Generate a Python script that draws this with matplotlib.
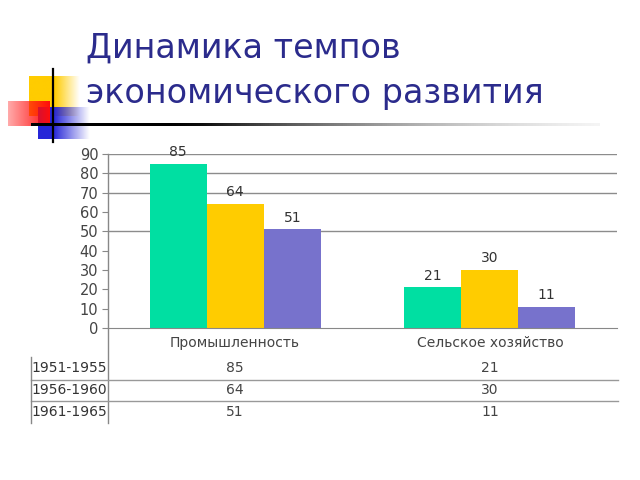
import numpy as np
import matplotlib
matplotlib.use("Agg")
import matplotlib.pyplot as plt

categories = ["Промышленность", "Сельское хозяйство"]
series_names = ["1951-1955", "1956-1960", "1961-1965"]
values = [[85, 21], [64, 30], [51, 11]]
colors = ["#00DFA2", "#FFCC00", "#7772CC"]
yticks = [0, 10, 20, 30, 40, 50, 60, 70, 80, 90]
grid_levels = [50, 70, 80, 90]
title_lines = ["Динамика темпов", "экономического развития"]

W, H = 640, 480
fig = plt.figure(figsize=(6.4, 4.8), dpi=100)
fig.patch.set_facecolor("white")

# overlay axes in pixel coordinates
ov = fig.add_axes([0, 0, 1, 1], zorder=0)
ov.set_xlim(0, W)
ov.set_ylim(H, 0)
ov.axis("off")

def grad_rect(x0, x1, y0, y1, rgb, a0=1.0, a1=0.0, fade_start=0.4, z=1):
    n = 100
    t = np.linspace(0, 1, n)
    alpha = np.where(t < fade_start, a0, a0 + (a1 - a0) * (t - fade_start) / (1 - fade_start))
    img = np.zeros((1, n, 4))
    img[0, :, :3] = rgb
    img[0, :, 3] = np.clip(alpha, 0, 1)
    ov.imshow(img, extent=(x0, x1, y1, y0), aspect="auto", zorder=z, interpolation="bilinear")

# decoration
grad_rect(29, 80, 76, 116, (1.0, 0.80, 0.0), fade_start=0.5, z=1)
grad_rect(38, 90, 107, 139, (0.15, 0.15, 0.85), fade_start=0.3, z=2)
grad_rect(8, 50, 101, 126, (1.0, 0.05, 0.05), a0=0.35, a1=1.0, fade_start=0.0, z=3)
ov.plot([53, 53], [69, 142], color="black", lw=1.6, zorder=5)
# fading horizontal rule
n = 200
rule = np.zeros((1, n, 4))
t = np.linspace(0, 1, n)
rule[0, :, :3] = np.clip((t[:, None] - 0.3) * 1.2, 0, 0.85)
rule[0, :, 3] = np.clip(1.25 - t, 0, 1)
ov.imshow(rule, extent=(31, 600, 126.5, 123.5), aspect="auto", zorder=5, interpolation="bilinear")
ov.set_xlim(0, W)
ov.set_ylim(H, 0)

# title
title_color = "#2B2B8C"
ov.text(86, 48, title_lines[0], fontsize=24, color=title_color, va="center", ha="left",
        family="DejaVu Sans", zorder=6)
ov.text(86, 93, title_lines[1], fontsize=24, color=title_color, va="center", ha="left",
        family="DejaVu Sans", zorder=6)

# main chart axes
left_px, right_px, top_px, bot_px = 108, 617, 154, 328
ax = fig.add_axes([left_px / W, 1 - bot_px / H, (right_px - left_px) / W, (bot_px - top_px) / H],
                  zorder=2)
ax.patch.set_alpha(0)
x = np.arange(len(categories))
bw = 0.224
for i, (name, vals, c) in enumerate(zip(series_names, values, colors)):
    xs = x + (i - 1) * bw
    ax.bar(xs, vals, width=bw, color=c, zorder=3, linewidth=0)
    for xi, v in zip(xs, vals):
        ax.text(xi, v + 2.5, str(v), ha="center", va="bottom", fontsize=10, color="#333333")
for g in grid_levels:
    ax.axhline(g, color="#8c8c8c", lw=1.0, zorder=1)
ax.set_xlim(-0.5, 1.5)
ax.set_ylim(0, 90)
ax.set_yticks(yticks)
ax.set_yticklabels([str(v) for v in yticks], fontsize=10.5, color="#444444")
ax.tick_params(axis="y", length=4, color="#888888", pad=3)
ax.set_xticks([])
for s in ["top", "right", "left"]:
    ax.spines[s].set_visible(False)
ax.spines["bottom"].set_color("#888888")
ax.spines["bottom"].set_zorder(4)

# vertical axis line extending through table
ov.plot([108, 108], [154, 423], color="#888888", lw=1.0, zorder=6)

# category labels
cat_x = [235, 490]
for cx, cat in zip(cat_x, categories):
    ov.text(cx, 343, cat, ha="center", va="center", fontsize=10, color="#444444", zorder=6)

# data table
row_y = [368, 390, 412]
for ri, (name, vals) in enumerate(zip(series_names, values)):
    ov.text(31, row_y[ri], name, ha="left", va="center", fontsize=10, color="#333333", zorder=6)
    for cx, v in zip(cat_x, vals):
        ov.text(cx, row_y[ri], str(v), ha="center", va="center", fontsize=10, color="#444444", zorder=6)
for ly in [380, 401]:
    ov.plot([31, 618], [ly, ly], color="#999999", lw=1.0, zorder=6)
ov.plot([31, 31], [357, 423], color="#888888", lw=1.0, zorder=6)

fig.savefig("out.png", dpi=100, facecolor="white")
